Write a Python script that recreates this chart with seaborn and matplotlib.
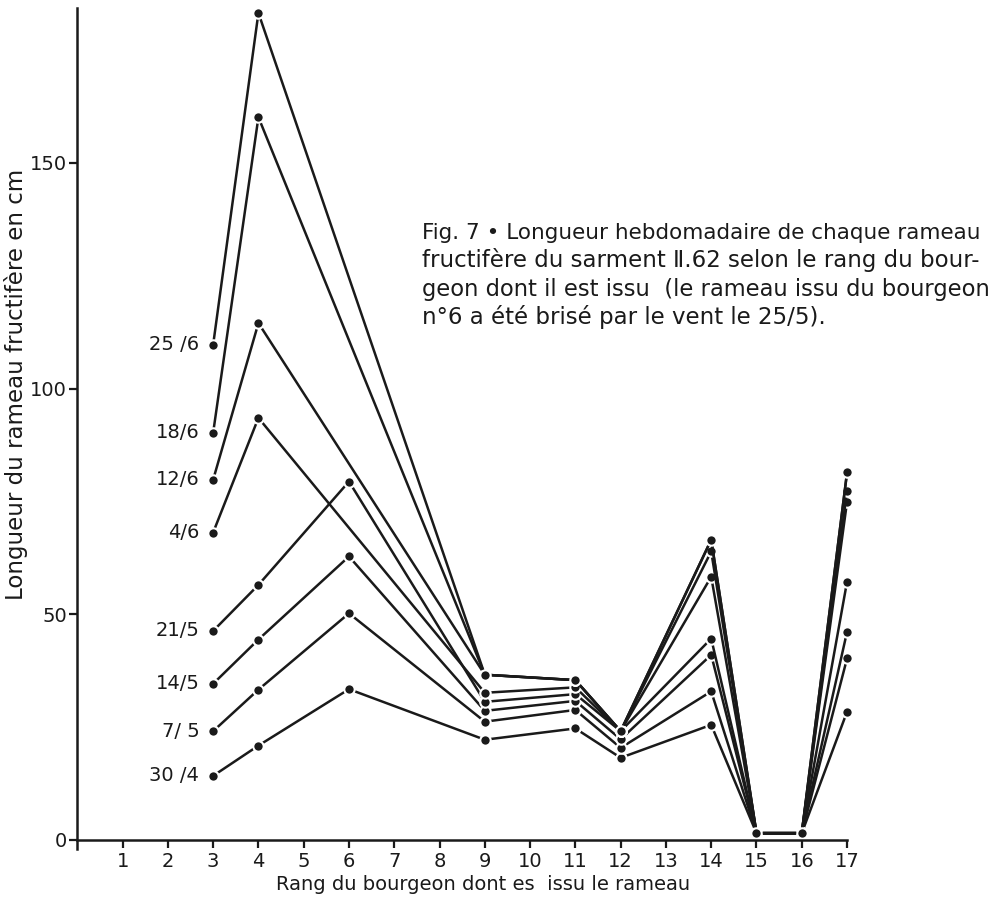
import numpy as np
import pandas as pd
import matplotlib
matplotlib.use("Agg")
import matplotlib.pyplot as plt
import seaborn as sns

# ---- data ----
rangs = [3, 4, 6, 9, 11, 12, 14, 15, 16, 17]
dates = ["30/4", "7/5", "14/5", "21/5", "4/6", "12/6", "18/6", "25/6"]
date_labels = ["30 /4", "7/ 5", "14/5", "21/5", "4/6", "12/6", "18/6", "25 /6"]
s_30_4 = [14.2, 20.9, 33.4, 22.2, 24.7, 18.2, 25.5, 1.5, 1.5, 28.4]
s_7_5 = [24.1, 33.3, 50.2, 26.2, 28.8, 20.4, 32.9, 1.5, 1.5, 40.2]
s_14_5 = [34.6, 44.4, 62.8, 28.6, 30.8, 22.3, 41.0, 1.5, 1.5, 46.1]
s_21_5 = [46.3, 56.5, 79.4, 30.6, 32.3, 24.1, 44.6, 1.5, 1.5, 57.2]
s_4_6 = [68.1, 93.5, None, 32.6, 33.8, 24.1, 58.3, 1.5, 1.5, 74.9]
s_12_6 = [79.8, 114.5, None, 36.6, 35.4, 24.1, 63.9, 1.5, 1.5, 77.3]
s_18_6 = [90.2, 160.1, None, 36.6, 35.4, 24.1, 66.5, 1.5, 1.5, 81.4]
s_25_6 = [109.7, 183.2, None, 36.6, 35.4, 24.1, 66.5, 1.5, 1.5, 81.4]
series = [s_30_4, s_7_5, s_14_5, s_21_5, s_4_6, s_12_6, s_18_6, s_25_6]

yticks = [0, 50, 100, 150]
xticks = list(range(1, 18))
xlabel = "Rang du bourgeon dont es  issu le rameau"
ylabel = "Longueur du rameau fructifère en cm"
caption_lines = ["Fig. 7 • Longueur hebdomadaire de chaque rameau",
                 "fructifère du sarment Ⅱ.62 selon le rang du bour-",
                 "geon dont il est issu  (le rameau issu du bourgeon",
                 "n°6 a été brisé par le vent le 25/5)."]

rows = []
for d, vals in zip(dates, series):
    for r, v in zip(rangs, vals):
        if v is not None:
            rows.append({"date": d, "rang": r, "longueur": v})
df = pd.DataFrame(rows)

# ---- figure ----
sns.set_theme(style="ticks")
plt.rcParams["font.family"] = ["DejaVu Sans"]
fig = plt.figure(figsize=(9.95, 8.98), dpi=100)
ax = fig.add_axes([0.0777, 0.0546, 0.7736, 0.9365])

sns.lineplot(data=df, x="rang", y="longueur", hue="date", hue_order=dates,
             palette=["#1a1a1a"] * len(dates), marker="o", markersize=7.5,
             markeredgecolor="white", markeredgewidth=1.5, linewidth=1.8,
             estimator=None, sort=True, legend=False, clip_on=False, ax=ax)

for lab, vals in zip(date_labels, series):
    ax.annotate(lab, xy=(3, vals[0]), xytext=(-10, 0), textcoords="offset points",
                ha="right", va="center", fontsize=14, color="#1a1a1a")

ax.set_xlim(0, 17)
ax.set_ylim(-2, 184.3)
ax.set_xticks(xticks)
ax.set_yticks(yticks)
ax.spines["bottom"].set_position(("data", 0))
for s in ["top", "right"]:
    ax.spines[s].set_visible(False)
for s in ["left", "bottom"]:
    ax.spines[s].set_linewidth(1.8)
    ax.spines[s].set_color("#1a1a1a")
ax.tick_params(axis="both", direction="out", length=5.5, width=1.6,
               colors="#1a1a1a", labelsize=14)
ax.tick_params(axis="x", pad=3)
ax.tick_params(axis="y", pad=2)
ax.grid(False)

ax.set_xlabel(xlabel, fontsize=14, color="#1a1a1a")
ax.xaxis.set_label_coords(0.5265, -0.031)
ax.xaxis.label.set_va("top")
ax.set_ylabel(ylabel, fontsize=16.5, color="#1a1a1a")
ax.yaxis.set_label_coords(-0.0640, 0.553)

# caption, one text per printed line (the printed block is justified)
cap_x = 422
cap_baselines = [239, 267, 296, 324]
cap_sizes = [15.5, 16.5, 16.3, 16.5]
for line, yb, fs in zip(caption_lines, cap_baselines, cap_sizes):
    fig.text(cap_x / 995, 1 - yb / 898, line, ha="left", va="baseline",
             fontsize=fs, color="#1a1a1a")

fig.savefig("out.png", dpi=100, facecolor="white")
